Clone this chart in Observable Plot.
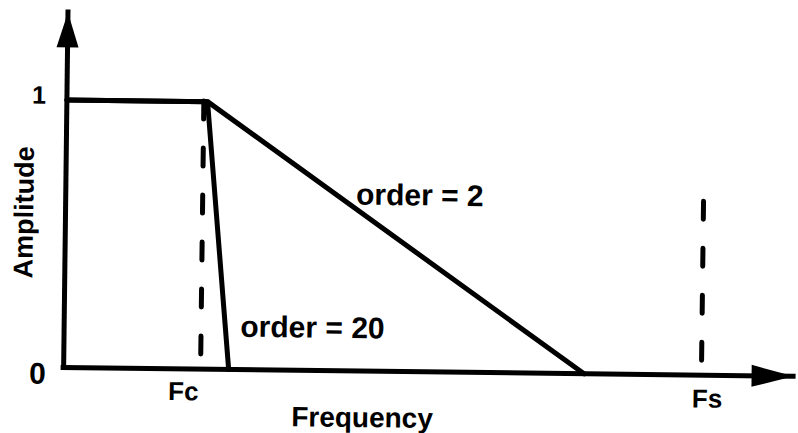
<!DOCTYPE html>
<html><head><meta charset="utf-8">
<script src="https://cdn.jsdelivr.net/npm/d3@7"></script>
<script src="https://cdn.jsdelivr.net/npm/@observablehq/plot@0.6"></script>
<style>
html,body{margin:0;padding:0;background:#fff;}
#chart svg{display:block;background:#fff;transform:rotate(0.7deg);transform-origin:399px 216.5px;}
</style></head><body><div id="chart"></div>
<script>
// ---- data (frequency in units of Fc, amplitude 0..1) ----
const seriesNames = ["order = 2", "order = 20"];
const frequency2 = [0, 1.027, 3.80];
const amplitude2 = [1, 1, 0];
const frequency20 = [0, 1.027, 1.205];
const amplitude20 = [1, 1, 0];
const markerLabels = ["Fc", "Fs"];
const markerFrequency = [1.0, 4.657];
const markerTop = [1, 0.65];
const yTickValues = [0, 1];
const yTickLabels = ["0", "1"];
const xAxisTitle = "Frequency";
const yAxisTitle = "Amplitude";
const labelFrequency = [2.12, 1.287];
const labelAmplitude = [0.658, 0.159];
const xMax = 5.33;
const yMax = 1.327;

// ---- tables ----
const rows = [
  ...frequency2.map((f, i) => ({series: seriesNames[0], frequency: f, amplitude: amplitude2[i]})),
  ...frequency20.map((f, i) => ({series: seriesNames[1], frequency: f, amplitude: amplitude20[i]}))
];
const markers = markerLabels.map((l, i) => ({label: l, f: markerFrequency[i], top: markerTop[i]}));
const annotations = seriesNames.map((s, i) => ({text: s, f: labelFrequency[i], a: labelAmplitude[i]}));
const yTicks = yTickValues.map((v, i) => ({v, label: yTickLabels[i]}));

const font = "'Liberation Sans', Arial, Helvetica, sans-serif";
const arrowUp = {draw(ctx) { ctx.moveTo(0, 0); ctx.lineTo(11, 35); ctx.lineTo(-11, 35); ctx.closePath(); }};
const arrowRight = {draw(ctx) { ctx.moveTo(0, 0); ctx.lineTo(-42, -11); ctx.lineTo(-42, 11); ctx.closePath(); }};

const chart = Plot.plot({
  width: 798,
  height: 433,
  marginLeft: 65,
  marginRight: 3,
  marginTop: 16,
  marginBottom: 62,
  style: {background: "#fff", color: "#000", overflow: "visible"},
  x: {domain: [0, xMax], axis: null},
  y: {domain: [0, yMax], axis: null},
  marks: [
    // dashed markers Fc, Fs
    Plot.ruleX(markers, {x: "f", y1: () => 0, y2: "top", stroke: "#000", strokeWidth: 5,
      strokeDasharray: "18,29", strokeDashoffset: 32.5, strokeLinecap: "round"}),
    // axes
    Plot.ruleY([0], {stroke: "#000", strokeWidth: 5, strokeLinecap: "square"}),
    Plot.ruleX([0], {stroke: "#000", strokeWidth: 5, strokeLinecap: "square"}),
    Plot.dot([{x: 0, y: yMax}], {x: "x", y: "y", symbol: arrowUp, r: 10, fill: "#000", stroke: "none"}),
    Plot.dot([{x: xMax, y: 0}], {x: "x", y: "y", symbol: arrowRight, r: 10, fill: "#000", stroke: "none"}),
    // responses
    Plot.line(rows, {x: "frequency", y: "amplitude", z: "series", stroke: "#000", strokeWidth: 5}),
    // series labels
    Plot.text(annotations, {x: "f", y: "a", text: "text", textAnchor: "start", fontSize: 30,
      fontWeight: "bold", fontFamily: font, fill: "#000"}),
    // y tick labels
    Plot.text(yTicks.filter(d => d.v === 1), {x: () => 0, y: "v", text: "label", dx: -28, dy: -4,
      fontSize: 25, fontWeight: "bold", fontFamily: font, fill: "#000"}),
    Plot.text(yTicks.filter(d => d.v === 0), {x: () => 0, y: "v", text: "label", dx: -26, dy: 7,
      fontSize: 30, fontWeight: "bold", fontFamily: font, fill: "#000"}),
    // marker labels
    Plot.text(markers.filter(d => d.label === "Fc"), {x: "f", y: () => 0, text: "label", dx: -17, dy: 23,
      fontSize: 26, fontWeight: "bold", fontFamily: font, fill: "#000"}),
    Plot.text(markers.filter(d => d.label === "Fs"), {x: "f", y: () => 0, text: "label", dx: 6, dy: 24,
      fontSize: 26, fontWeight: "bold", fontFamily: font, fill: "#000"}),
    // axis titles
    Plot.text([xAxisTitle], {frameAnchor: "bottom", text: d => d, dx: -66, dy: 47,
      textAnchor: "middle", lineAnchor: "middle",
      fontSize: 28, fontWeight: "bold", fontFamily: font, fill: "#000"}),
    Plot.text([yAxisTitle], {frameAnchor: "left", text: d => d, dx: -41, dy: 23, rotate: -90,
      textAnchor: "middle", lineAnchor: "middle",
      fontSize: 27, fontWeight: "bold", fontFamily: font, fill: "#000"})
  ]
});
document.getElementById("chart").append(chart);
</script>
</body></html>
